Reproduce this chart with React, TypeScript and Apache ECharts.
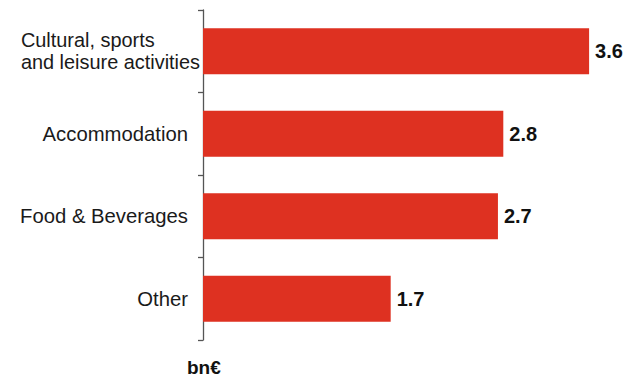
import React, { useEffect, useRef } from "react";
import * as echarts from "echarts";

const categories = ["Cultural, sports\nand leisure activities", "Accommodation", "Food & Beverages", "Other"];
const values = [3.6, 2.8, 2.75, 1.75];
const valueLabels = ["3.6", "2.8", "2.7", "1.7"];
const unitLabel = "bn€";

const FONT = "'Liberation Sans', Arial, Helvetica, sans-serif";

export default function App() {
  const ref = useRef<HTMLDivElement>(null);
  useEffect(() => {
    if (!ref.current) return;
    const chart = echarts.init(ref.current, null, { renderer: "svg" });
    chart.setOption({
      animation: false,
      grid: { left: 203, top: 10, bottom: 38, width: 429 },
      xAxis: { type: "value", min: 0, max: 4, show: false, splitLine: { show: false } },
      yAxis: {
        type: "category",
        inverse: true,
        data: categories,
        axisLine: { show: true, lineStyle: { color: "#555", width: 1.3 } },
        axisTick: { show: true, length: 5, lineStyle: { color: "#555", width: 1.3 } },
        axisLabel: {
          margin: 3,
          fontFamily: FONT,
          fontSize: 20,
          color: "#1a1a1a",
          formatter: (v: string) => {
            if (v.indexOf("\n") >= 0) {
              return v.split("\n").map((l) => `{a|${l}}`).join("\n");
            }
            return `{b|${v}}`;
          },
          rich: {
            a: { align: "left", fontFamily: FONT, fontSize: 19.9, lineHeight: 22, color: "#1a1a1a" },
            b: { fontFamily: FONT, fontSize: 20.3, color: "#1a1a1a", padding: [0, 12, 0, 0] },
          },
        },
      },
      series: [
        {
          type: "bar",
          data: values,
          barWidth: 46,
          itemStyle: { color: "#de3121" },
          label: {
            show: true,
            position: "right",
            distance: 6,
            fontFamily: FONT,
            fontSize: 20,
            fontWeight: "bold",
            color: "#111",
            formatter: (p: any) => valueLabels[p.dataIndex],
          },
        },
      ],
      graphic: [
        {
          type: "text",
          left: 187,
          top: 358,
          style: { text: unitLabel, font: `bold 19px ${FONT}`, fill: "#111" },
        },
      ],
    });
    return () => chart.dispose();
  }, []);
  return <div ref={ref} style={{ width: 632, height: 378, position: "absolute", left: 0, top: 0 }} />;
}
